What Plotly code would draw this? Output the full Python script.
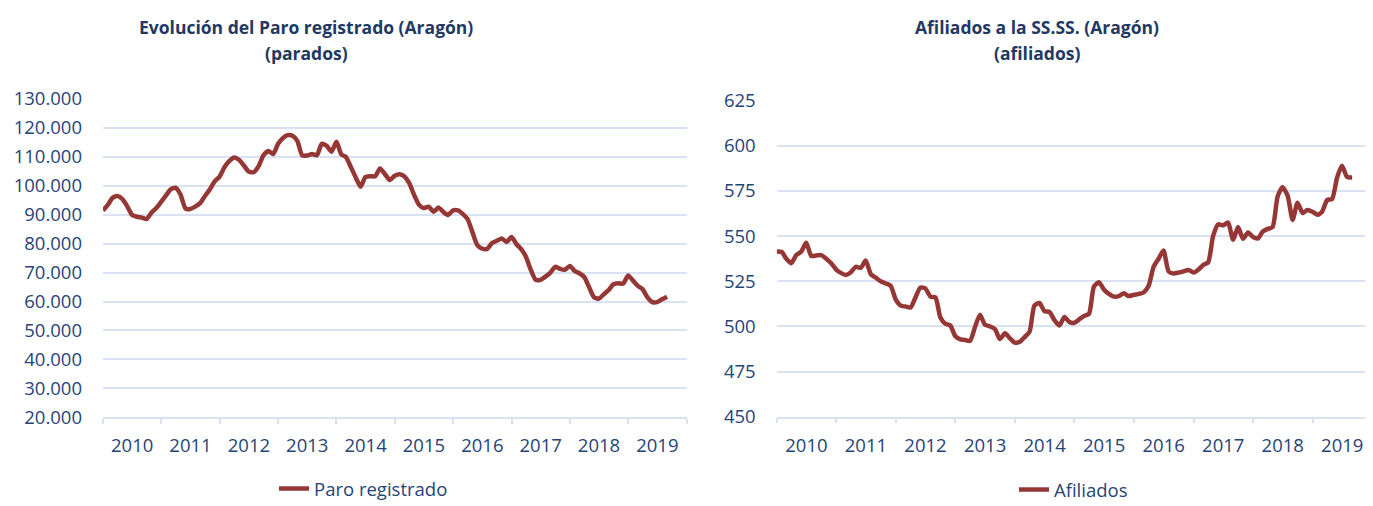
import pandas as pd
import plotly.graph_objects as go

# ---------------- data ----------------
months = pd.date_range("2010-01-01", "2019-09-01", freq="MS")

paro = [91.5, 93.5, 95.8, 96.5, 95.5, 93.0, 90.0, 89.3, 89.0, 88.5, 90.8, 92.3,
        94.5, 96.8, 98.8, 99.3, 97.0, 92.2, 92.0, 92.8, 94.0, 96.5, 98.8, 101.5,
        103.2, 106.5, 108.5, 109.8, 109.0, 107.0, 104.9, 104.7, 106.8, 110.5, 112.0, 111.0,
        114.5, 116.5, 117.5, 117.3, 115.5, 110.5, 110.5, 111.0, 110.6, 114.5, 113.8, 111.8,
        115.2, 110.8, 110.0, 106.5, 103.0, 99.7, 103.0, 103.3, 103.3, 106.0, 104.0, 102.0,
        103.5, 104.0, 103.3, 101.0, 97.0, 93.5, 92.3, 92.8, 91.0, 92.5, 91.0, 89.9,
        91.5, 91.5, 90.3, 88.5, 84.0, 79.5, 78.3, 78.2, 80.2, 81.0, 81.8, 80.6,
        82.3, 79.8, 78.2, 75.5, 71.0, 67.5, 67.5, 68.6, 70.0, 72.0, 71.3, 71.0,
        72.3, 70.5, 69.8, 68.5, 65.0, 61.5, 61.0, 62.5, 64.0, 66.0, 66.3, 66.2,
        69.0, 67.2, 65.5, 64.3, 61.5, 59.8, 59.8, 60.8, 61.7]
paro = [v * 1000 for v in paro]

afiliados = [541.5, 541.2, 537.5, 535.0, 539.5, 541.5, 546.3, 539.0, 539.3, 539.5, 537.5, 535.0,
             531.5, 529.5, 528.5, 530.0, 533.0, 532.5, 536.5, 529.0, 527.0, 525.0, 523.8, 522.5,
             515.0, 511.5, 511.0, 510.5, 516.0, 521.5, 521.0, 516.5, 516.0, 505.0, 501.5, 500.5,
             494.5, 492.8, 492.5, 492.0, 499.5, 506.5, 501.0, 500.0, 498.5, 493.0, 496.2, 493.5,
             491.0, 491.5, 494.0, 497.0, 511.5, 513.0, 508.5, 508.0, 503.5, 500.5, 505.2, 502.5,
             502.0, 504.0, 505.8, 507.0, 522.0, 524.5, 520.5, 518.0, 516.5, 516.8, 518.3, 516.8,
             517.5, 518.0, 518.8, 522.5, 533.0, 537.5, 542.0, 530.5, 529.3, 529.8, 530.5, 531.3,
             529.8, 531.5, 534.0, 535.5, 550.0, 556.5, 556.0, 557.5, 548.0, 555.0, 548.5, 552.0,
             549.5, 548.8, 552.5, 554.0, 555.0, 572.0, 577.0, 572.5, 559.0, 568.5, 562.8, 564.5,
             563.5, 561.8, 563.5, 570.0, 570.5, 582.5, 589.0, 582.8, 582.5]

paro_ticks = list(range(20000, 130001, 10000))
paro_ticktext = [f"{v:,}".replace(",", ".") for v in paro_ticks]
afil_ticks = list(range(450, 626, 25))

title_left = ["Evolución del Paro registrado (Aragón)", "(parados)"]
title_right = ["Afiliados a la SS.SS. (Aragón)", "(afiliados)"]

# ---------------- style ----------------
LINE = "#953735"
GRID = "#D9E2F3"
TXT = "#264478"
TITLE = "#1F3864"
FONT = "Open Sans"

# page is offset by the default 8px body margin
OFF = 8
W, H = 1373 - OFF, 506 - OFF


def PX(px):
    return (px - OFF) / W


def PY(py):
    return (506 - py) / H


fig = go.Figure()
fig.add_trace(go.Scatter(x=months, y=paro, mode="lines", name="Paro registrado",
                         line=dict(color=LINE, width=4.5, shape="spline", smoothing=0.6),
                         xaxis="x", yaxis="y", legend="legend"))
fig.add_trace(go.Scatter(x=months, y=afiliados, mode="lines", name="Afiliados",
                         line=dict(color=LINE, width=4.5, shape="spline", smoothing=0.6),
                         xaxis="x2", yaxis="y2", legend="legend2"))

xcommon = dict(type="date", range=["2010-01-01", "2020-01-01"], dtick="M12", tick0="2010-01-01",
               tickformat="%Y", ticklabelmode="period", ticks="outside", ticklen=5,
               tickcolor=GRID, tickwidth=1.5, showgrid=False, showline=True, linecolor=GRID,
               linewidth=1.5, tickfont=dict(family=FONT, size=18.5, color=TXT),
               ticklabelstandoff=6, automargin=False, fixedrange=True)
ycommon = dict(showgrid=True, gridcolor=GRID, gridwidth=1.5, zeroline=False, showline=False,
               ticks="", tickfont=dict(family=FONT, size=18.5, color=TXT), ticklabelstandoff=20,
               automargin=False, fixedrange=True)

fig.update_layout(
    width=W, height=H,
    margin=dict(l=0, r=0, t=0, b=0, autoexpand=False),
    paper_bgcolor="white", plot_bgcolor="white",
    xaxis=dict(domain=[PX(103), PX(686.5)], anchor="y", **xcommon),
    yaxis=dict(domain=[PY(417.3), PY(99)], range=[20000, 130000], anchor="x",
               tickvals=paro_ticks, ticktext=paro_ticktext, **ycommon),
    xaxis2=dict(domain=[PX(776.7), min(1.0, PX(1372))], anchor="y2", **xcommon),
    yaxis2=dict(domain=[PY(416.7), PY(100.7)], range=[450, 625], anchor="x2",
                tickvals=afil_ticks, **ycommon),
    showlegend=True,
    legend=dict(x=PX(274), y=PY(489), xanchor="left", yanchor="middle",
                orientation="h", font=dict(family=FONT, size=18.5, color=TXT),
                bgcolor="rgba(0,0,0,0)"),
    legend2=dict(x=PX(1014), y=PY(490), xanchor="left", yanchor="middle",
                 orientation="h", font=dict(family=FONT, size=18.5, color=TXT),
                 bgcolor="rgba(0,0,0,0)"),
)

for (lines, cx) in [(title_left, 306), (title_right, 1037)]:
    for txt, yy in zip(lines, [27, 53]):
        fig.add_annotation(text=f"<b>{txt}</b>", x=PX(cx), y=PY(yy), xref="paper", yref="paper",
                           xanchor="center", yanchor="middle", showarrow=False,
                           font=dict(family=FONT, size=17.5, color=TITLE))

fig.write_html("out.html")
